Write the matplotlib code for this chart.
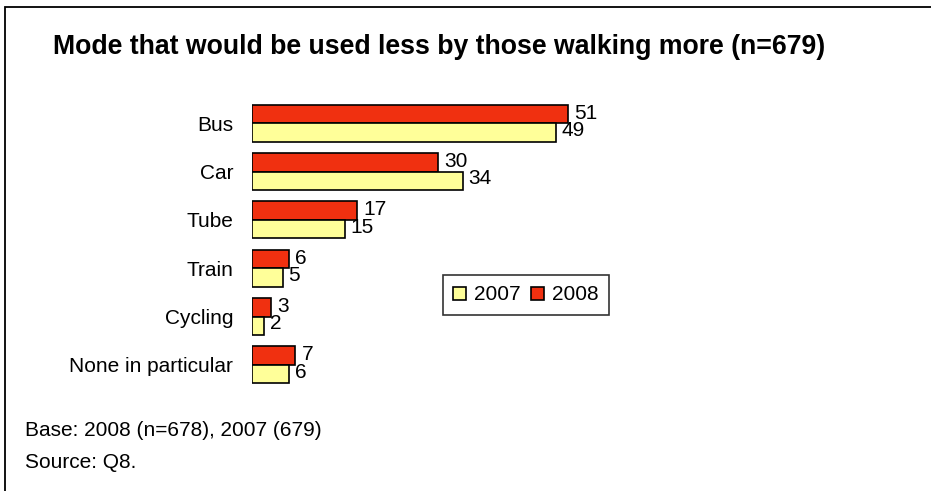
import matplotlib
matplotlib.use("Agg")
import matplotlib.pyplot as plt
from matplotlib.patches import Patch, Rectangle
import numpy as np

plt.rcParams['font.family'] = ['Liberation Sans', 'DejaVu Sans']

categories = ["Bus", "Car", "Tube", "Train", "Cycling", "None in particular"]
values_2008 = [51, 30, 17, 6, 3, 7]
values_2007 = [49, 34, 15, 5, 2, 6]
series_labels = ["2007", "2008"]

color_2007 = "#FFFF99"
color_2008 = "#F03010"

W, H = 931, 491
fig = plt.figure(figsize=(W / 100, H / 100), dpi=100)

# outer frame (runs off the right and bottom edges)
fig.patches.append(Rectangle((5 / W, -0.2), 2, 1.2 - 7 / H, transform=fig.transFigure,
                             fill=False, edgecolor="black", linewidth=1.3))

ax = fig.add_axes([252 / W, (H - 389) / H, 372 / W, 290 / H])
y = np.arange(len(categories))
h = 0.385
ax.barh(y - h / 2, values_2008, height=h, color=color_2008,
        edgecolor="black", linewidth=1.2, label=series_labels[1])
ax.barh(y + h / 2, values_2007, height=h, color=color_2007,
        edgecolor="black", linewidth=1.2, label=series_labels[0])

for v, yy in zip(values_2008, y):
    ax.annotate(str(v), (v, yy - h / 2), xytext=(4.5, 0.5), textcoords="offset points",
                ha="left", va="center", fontsize=15)
for v, yy in zip(values_2007, y):
    ax.annotate(str(v), (v, yy + h / 2), xytext=(4, 1.5), textcoords="offset points",
                ha="left", va="center", fontsize=15)

ax.set_xlim(0, 60)
ax.set_ylim(len(categories) - 0.5, -0.5)
ax.set_yticks(y)
ax.set_yticklabels(categories, fontsize=15)
ax.tick_params(axis="y", length=0, pad=13.5)
ax.set_xticks([])
for s in ax.spines.values():
    s.set_visible(False)

handles = [Patch(facecolor=color_2007, edgecolor="black", linewidth=1.2, label=series_labels[0]),
           Patch(facecolor=color_2008, edgecolor="black", linewidth=1.2, label=series_labels[1])]
leg = fig.legend(handles=handles, loc="center", bbox_to_anchor=(526 / W, 1 - 295 / H),
                 ncol=2, fontsize=15, frameon=True, fancybox=False, edgecolor="black",
                 handlelength=0.6, handleheight=0.6, handletextpad=0.4, columnspacing=0.5,
                 borderpad=0.5, borderaxespad=0)
leg.get_frame().set_linewidth(1.2)

fig.text(53 / W, 1 - 47 / H, "Mode that would be used less by those walking more (n=679)",
         fontsize=19.2, fontweight="bold", ha="left", va="center")
fig.text(25 / W, 1 - 431 / H, "Base: 2008 (n=678), 2007 (679)", fontsize=15,
         ha="left", va="center")
fig.text(25 / W, 1 - 463 / H, "Source: Q8.", fontsize=15, ha="left", va="center")

fig.savefig("out.png", dpi=100)
